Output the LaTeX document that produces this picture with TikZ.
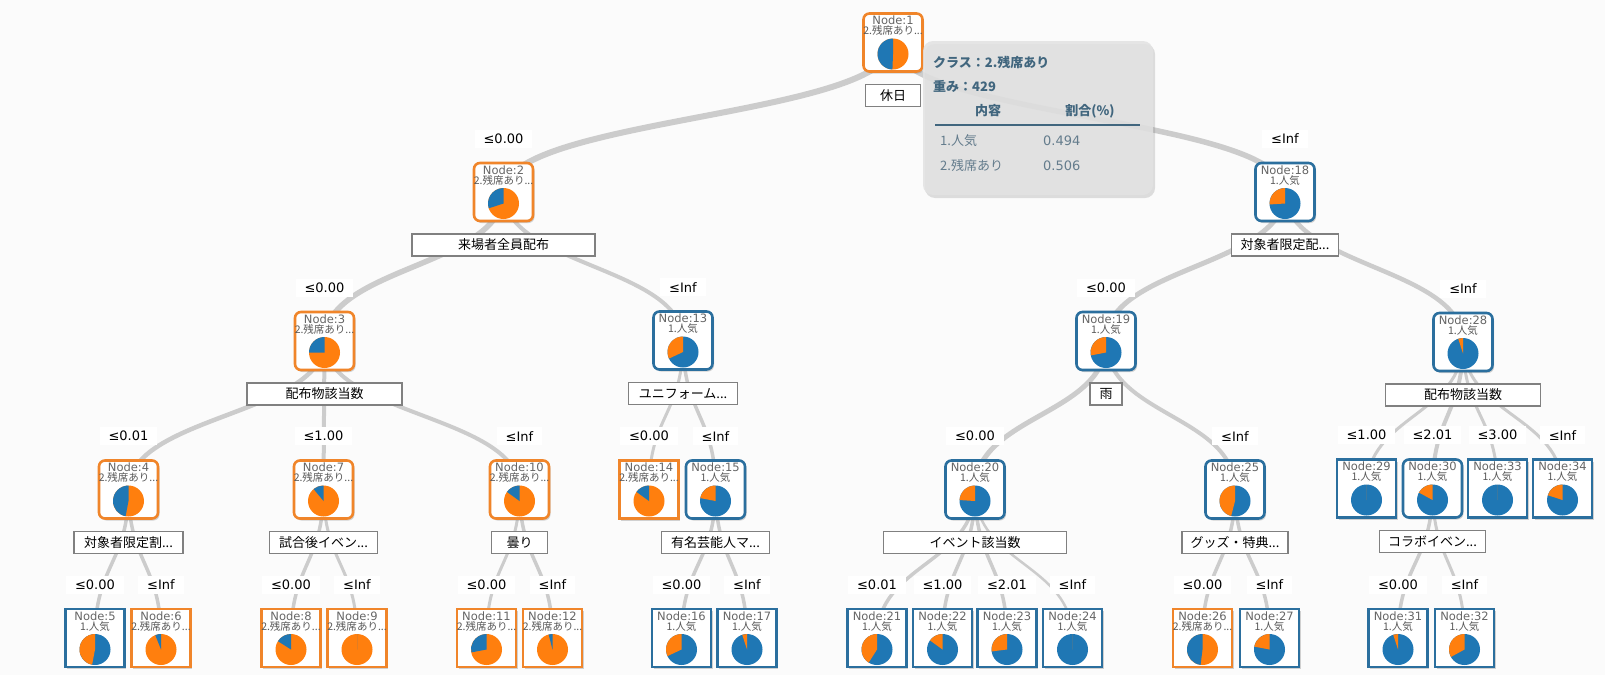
\documentclass[tikz,border=0pt]{standalone}
\usepackage{fontspec}
\setmainfont{DejaVu Sans}
\newfontfamily\jp{Noto Sans CJK JP}
\usetikzlibrary{calc,shadows}
\definecolor{cor}{HTML}{FF7F0E}
\definecolor{cbl}{HTML}{1F77B4}
\definecolor{bor}{HTML}{F0852A}
\definecolor{bbl}{HTML}{2B6F9E}
\definecolor{edgec}{HTML}{CCCCCC}
\definecolor{bgc}{HTML}{FBFBFB}
\definecolor{tipc}{HTML}{E2E2E2}
\definecolor{tiptx}{HTML}{41667E}
\definecolor{tiprow}{HTML}{647C8C}
\pgfdeclarelayer{bg}
\pgfsetlayers{bg,main}
\tikzset{
 nbox/.style={rectangle, minimum width=59pt, minimum height=58pt, inner sep=0pt, fill=white, line width=2.6pt,
   drop shadow={shadow xshift=1.5pt, shadow yshift=-2pt, opacity=0.35}},
 ri/.style={nbox, rounded corners=6pt},
 sq/.style={nbox},
 ob/.style={draw=bor},
 bb/.style={draw=bbl},
 idtxt/.style={inner sep=0pt, text=black!60, font=\fontsize{11.5}{12}\selectfont},
 cltxt/.style={inner sep=0pt, text=black!65, font=\jp\fontsize{10.5}{11}\selectfont},
 edge/.style={draw=edgec, line cap=round},
 elab/.style={fill=white, inner xsep=9pt, inner ysep=4pt, font=\fontsize{13}{15}\selectfont, text=black},
 slab/.style={draw=black!50, line width=1.5pt, fill=white, minimum height=22pt, inner sep=0pt, font=\jp\fontsize{13}{15}\selectfont},
 tip/.style={rectangle, rounded corners=10pt, minimum width=230pt, minimum height=154pt, fill=tipc, fill opacity=0.88,
   drop shadow={shadow xshift=2pt, shadow yshift=-3pt, opacity=0.25}},
 tipb/.style={inner sep=0pt, text=tiptx, font=\jp\bfseries\fontsize{13}{15}\selectfont},
 tipr/.style={inner sep=0pt, text=tiprow, font=\fontsize{13}{15}\selectfont},
}
\newcommand\TN[9]{%
 \node[#4] (#1) at (#2,#3) {};
 \node[idtxt] (#1i) at ($(#1.north)+(0,8.5)$) {Node:#7};
 \node[cltxt] (#1k) at ($(#1.north)+(0,18.5)$) {#8};
 \coordinate (#1p) at ($(#1.center)+(0,11.5)$);
 \fill[#5] (#1p) circle[radius=15.5pt];
 \fill[#6] (#1p) -- ++(90:15.5pt) arc[start angle=90,end angle={90+360*#9},radius=15.5pt] -- cycle;
}
\newcommand\LK[3]{%
 \path (#1.center) -- coordinate[pos=0.5] (#1x#2) (#2.center);
 \draw[edge, line width=#3pt] (#1.center) .. controls (#1.center |- #1x#2) and (#2.center |- #1x#2) .. (#2.center);
}
\newcommand\EL[3]{\node[elab] (#1) at ($(#2.north)+(0,-23)$) {#3};}
\newcommand\SL[4]{\node[slab, minimum width=#3pt] (#1) at ($(#2.center)+(0,53)$) {#4};}
\def\OC{2.残席あり...}
\def\BC{1.人気}
\begin{document}
\begin{tikzpicture}[x=1pt,y=-1pt]
\useasboundingbox (0,0) rectangle (1605,675);
% nodes
\TN{N1}{893}{42.5}{ri,ob}{cor}{cbl}{1}{\OC}{0.494}
\TN{N2}{503.5}{192}{ri,ob}{cor}{cbl}{2}{\OC}{0.30}
\TN{N18}{1285}{192}{ri,bb}{cbl}{cor}{18}{\BC}{0.26}
\TN{N3}{324.5}{341}{ri,ob}{cor}{cbl}{3}{\OC}{0.25}
\TN{N13}{683}{340.5}{ri,bb}{cbl}{cor}{13}{\BC}{0.32}
\TN{N19}{1106}{341}{ri,bb}{cbl}{cor}{19}{\BC}{0.28}
\TN{N28}{1463}{342}{ri,bb}{cbl}{cor}{28}{\BC}{0.05}
\TN{N4}{128.5}{489.5}{ri,ob}{cor}{cbl}{4}{\OC}{0.47}
\TN{N7}{323.5}{489.5}{ri,ob}{cor}{cbl}{7}{\OC}{0.11}
\TN{N10}{519.5}{489.5}{ri,ob}{cor}{cbl}{10}{\OC}{0.15}
\TN{N14}{649}{489.5}{sq,ob}{cor}{cbl}{14}{\OC}{0.15}
\TN{N15}{715.5}{489.5}{ri,bb}{cbl}{cor}{15}{\BC}{0.22}
\TN{N20}{975}{489.5}{ri,bb}{cbl}{cor}{20}{\BC}{0.24}
\TN{N25}{1235}{489.5}{ri,bb}{cbl}{cor}{25}{\BC}{0.46}
\TN{N29}{1366.5}{488.5}{sq,bb}{cbl}{cor}{29}{\BC}{0}
\TN{N30}{1432.5}{488.5}{ri,bb}{cbl}{cor}{30}{\BC}{0.17}
\TN{N33}{1497.5}{488.5}{sq,bb}{cbl}{cor}{33}{\BC}{0}
\TN{N34}{1562.5}{488.5}{sq,bb}{cbl}{cor}{34}{\BC}{0.20}
\TN{N5}{95}{638}{sq,bb}{cbl}{cor}{5}{\BC}{0.47}
\TN{N6}{161}{638}{sq,ob}{cor}{cbl}{6}{\OC}{0.06}
\TN{N8}{291}{638}{sq,ob}{cor}{cbl}{8}{\OC}{0.16}
\TN{N9}{357}{638}{sq,ob}{cor}{cbl}{9}{\OC}{0}
\TN{N11}{486.5}{638}{sq,ob}{cor}{cbl}{11}{\OC}{0.28}
\TN{N12}{552.5}{638}{sq,ob}{cor}{cbl}{12}{\OC}{0.04}
\TN{N16}{681.5}{638}{sq,bb}{cbl}{cor}{16}{\BC}{0.32}
\TN{N17}{747}{638}{sq,bb}{cbl}{cor}{17}{\BC}{0.05}
\TN{N21}{877}{638}{sq,bb}{cbl}{cor}{21}{\BC}{0.41}
\TN{N22}{942.5}{638}{sq,bb}{cbl}{cor}{22}{\BC}{0.15}
\TN{N23}{1007}{638}{sq,bb}{cbl}{cor}{23}{\BC}{0.27}
\TN{N24}{1072.5}{638}{sq,bb}{cbl}{cor}{24}{\BC}{0}
\TN{N26}{1202.5}{638}{sq,ob}{cor}{cbl}{26}{\OC}{0.48}
\TN{N27}{1269.5}{638}{sq,bb}{cbl}{cor}{27}{\BC}{0.22}
\TN{N31}{1398}{638}{sq,bb}{cbl}{cor}{31}{\BC}{0.05}
\TN{N32}{1464.5}{638}{sq,bb}{cbl}{cor}{32}{\BC}{0.33}
% edges
\begin{pgfonlayer}{bg}
\fill[bgc] (0,0) rectangle (1605,675);
\LK{N1}{N2}{6} \LK{N1}{N18}{5.5}
\LK{N2}{N3}{5.5} \LK{N2}{N13}{4}
\LK{N18}{N19}{5} \LK{N18}{N28}{4.5}
\LK{N3}{N4}{4.5} \LK{N3}{N7}{4} \LK{N3}{N10}{4}
\LK{N13}{N14}{3} \LK{N13}{N15}{3.5}
\LK{N19}{N20}{5} \LK{N19}{N25}{4}
\LK{N28}{N29}{3} \LK{N28}{N30}{4} \LK{N28}{N33}{3} \LK{N28}{N34}{3}
\LK{N4}{N5}{3.5} \LK{N4}{N6}{3.5} \LK{N7}{N8}{3.5} \LK{N7}{N9}{3}
\LK{N10}{N11}{3} \LK{N10}{N12}{3.5} \LK{N15}{N16}{3.5} \LK{N15}{N17}{3.5}
\LK{N20}{N21}{3.5} \LK{N20}{N22}{3.5} \LK{N20}{N23}{3.5} \LK{N20}{N24}{2.5}
\LK{N25}{N26}{3.5} \LK{N25}{N27}{3.5} \LK{N30}{N31}{3.5} \LK{N30}{N32}{3}
\end{pgfonlayer}
% edge labels
\EL{E2}{N2}{≤0.00} \EL{E18}{N18}{≤Inf}
\EL{E3}{N3}{≤0.00} \EL{E13}{N13}{≤Inf} \EL{E19}{N19}{≤0.00} \EL{E28}{N28}{≤Inf}
\EL{E4}{N4}{≤0.01} \EL{E7}{N7}{≤1.00} \EL{E10}{N10}{≤Inf}
\EL{E14}{N14}{≤0.00} \EL{E15}{N15}{≤Inf}
\EL{E20}{N20}{≤0.00} \EL{E25}{N25}{≤Inf}
\EL{E29}{N29}{≤1.00} \EL{E30}{N30}{≤2.01} \EL{E33}{N33}{≤3.00} \EL{E34}{N34}{≤Inf}
\EL{E5}{N5}{≤0.00} \EL{E6}{N6}{≤Inf} \EL{E8}{N8}{≤0.00} \EL{E9}{N9}{≤Inf}
\EL{E11}{N11}{≤0.00} \EL{E12}{N12}{≤Inf} \EL{E16}{N16}{≤0.00} \EL{E17}{N17}{≤Inf}
\EL{E21}{N21}{≤0.01} \EL{E22}{N22}{≤1.00} \EL{E23}{N23}{≤2.01} \EL{E24}{N24}{≤Inf}
\EL{E26}{N26}{≤0.00} \EL{E27}{N27}{≤Inf} \EL{E31}{N31}{≤0.00} \EL{E32}{N32}{≤Inf}
% split labels
\SL{S1}{N1}{55}{休日}
\SL{S2}{N2}{183}{来場者全員配布}
\SL{S18}{N18}{107}{対象者限定配...}
\SL{S3}{N3}{155}{配布物該当数}
\SL{S13}{N13}{109}{ユニフォーム...}
\SL{S19}{N19}{32}{雨}
\SL{S28}{N28}{155}{配布物該当数}
\SL{S4}{N4}{109}{対象者限定割...}
\SL{S7}{N7}{108}{試合後イベン...}
\SL{S10}{N10}{56}{曇り}
\SL{S15}{N15}{108}{有名芸能人マ...}
\SL{S20}{N20}{183}{イベント該当数}
\SL{S25}{N25}{106}{グッズ・特典...}
\SL{S30}{N30}{106}{コラボイベン...}
% tooltip
\node[tip] (tip) at (1038,118) {};
\node[tipb, anchor=west] (tt1) at (933,62) {クラス：2.残席あり};
\node[tipb, anchor=west] (tt2) at (933,86) {重み：429};
\node[tipb] (tt3) at (988,111) {内容};
\node[tipb] (tt4) at (1090,111) {割合(\%)};
\draw[tiptx, line width=2pt] (935,125) -- (1140,125);
\node[tipr, anchor=west] (tt5) at (940,141) {\jp 1.人気};
\node[tipr, anchor=west] (tt6) at (1043,141) {0.494};
\node[tipr, anchor=west] (tt7) at (940,166) {\jp 2.残席あり};
\node[tipr, anchor=west] (tt8) at (1043,166) {0.506};
\end{tikzpicture}
\end{document}
